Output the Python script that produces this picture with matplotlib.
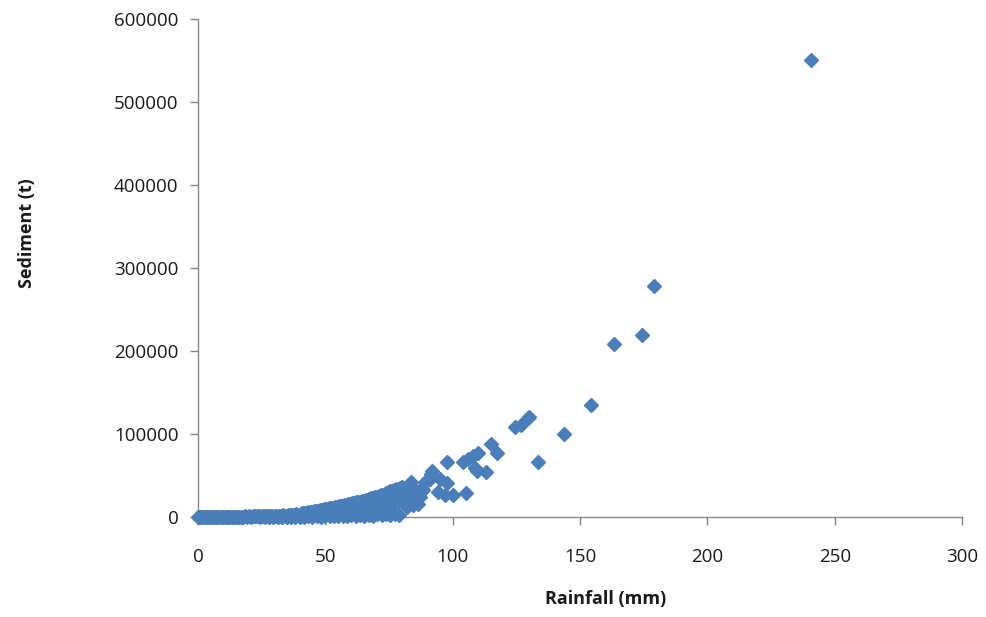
import matplotlib
matplotlib.use("Agg")
import matplotlib.pyplot as plt

# --- data ---
# low band, almost no sediment
rain_band = [0.0, 0.4, 0.8, 1.2, 1.7, 2.1, 2.6, 3.0, 3.5, 4.1, 4.6, 5.2, 5.7, 6.3, 6.9,
             7.4, 8.0, 8.7, 9.3, 9.9, 10.6, 11.2, 11.9, 12.6, 13.2, 13.9, 14.7, 15.4,
             16.1, 16.9, 17.6, 18.4, 19.2, 20.0, 20.8, 21.6, 22.4, 23.3, 24.1, 25.0,
             25.8, 26.7, 27.5, 28.4, 29.2, 30.1, 31.0, 31.8, 32.7, 33.5, 34.4, 35.2,
             36.1, 36.9, 37.8, 38.6, 39.5]
sed_band = [0, 50, 20, 120, 80, 150, 60, 200, 110, 250, 90, 300, 180, 260, 140,
            350, 220, 310, 170, 400, 260, 380, 300, 450, 330, 520, 380, 560,
            420, 640, 480, 700, 560, 780, 650, 900, 720, 1000, 850, 1150,
            950, 1300, 1100, 1450, 1250, 1650, 1400, 1850, 1600, 2100, 1800, 2400,
            2050, 2700, 2300, 3100, 2600]

rain_floor = [24.5, 26.2, 27.9, 29.6, 31.4, 33.1, 34.8, 36.5, 38.2, 39.9, 41.5, 43.2,
              44.9, 46.6, 48.3, 50.0, 51.7, 53.4, 55.1, 56.8, 58.5, 60.2, 61.9, 63.6,
              65.3, 67.0, 68.7, 70.4, 72.1, 73.8, 75.5, 77.2, 78.9]
sed_floor = [0, 100, 40, 200, 90, 300, 150, 420, 250, 500, 380, 700,
             450, 900, 600, 1100, 700, 1400, 900, 1700, 1100, 2100, 1300, 2500,
             1500, 2900, 1800, 3300, 2000, 3800, 2300, 4200, 2600]

# rising band 40-80 mm
rain_mid = [40.3, 41.0, 41.8, 42.5, 43.3, 44.0, 44.8, 45.5, 46.3, 47.0, 47.8, 48.5,
            49.3, 50.0, 50.8, 51.5, 52.3, 53.0, 53.8, 54.5, 55.3, 56.0, 56.8, 57.5,
            58.3, 59.0, 59.8, 60.5, 61.3, 62.0, 62.8, 63.5, 64.3, 65.0, 65.8, 66.5,
            67.3, 68.0, 68.8, 69.5, 70.3, 71.0, 71.8, 72.5, 73.3, 74.0, 74.8, 75.5,
            76.3, 77.0, 77.8, 78.5, 79.3, 80.0]
sed_mid_hi = [4000, 4400, 4700, 4900, 5500, 6000, 6300, 6900, 7200, 7400, 8200, 8600,
              9100, 9500, 10100, 10900, 11000, 11400, 11900, 12400, 12800, 13000, 13800, 14500,
              14900, 15500, 16000, 16900, 17100, 17600, 18200, 18700, 19300, 19300, 20500, 21100,
              21800, 22900, 23100, 23900, 24600, 25400, 26200, 26300, 27900, 28700, 29600, 31200,
              31400, 32400, 33300, 33800, 35400, 36500]
sed_mid_md = [2300, 2000, 2700, 2500, 3100, 2900, 3600, 3300, 4100, 3800, 4700, 4300,
              5200, 4900, 5800, 5400, 6400, 6000, 7000, 6600, 7700, 7200, 8300, 7900,
              9000, 8500, 9700, 9200, 10400, 9800, 11100, 10500, 11900, 11200, 12700, 12000,
              13500, 12800, 14300, 13600, 15200, 14400, 16100, 15200, 17000, 16100, 18000, 17000,
              19000, 17900, 20000, 18900, 21100, 19900]

# scattered points above 80 mm
rain_high = [80.6, 81.3, 81.9, 82.4, 83.2, 83.5, 84.0, 84.6, 85.2, 85.9, 86.3, 87.2,
             87.8, 88.5, 89.1, 91.1, 91.5, 91.8, 94.3, 95.0, 97.0, 97.6, 97.9, 100.0,
             104.2, 105.4, 106.2, 108.1, 108.8, 109.4, 110.1, 113.1, 115.1, 117.5, 124.6,
             126.7, 129.5, 130.1, 133.6, 143.7, 154.3, 163.3, 174.2, 178.9, 240.7]
sed_high = [24000, 31000, 12000, 27000, 39000, 42000, 20000, 14500, 30000, 22000, 16000, 24500,
            34500, 32500, 42500, 45500, 51500, 56000, 30000, 46000, 27000, 66800, 41000, 26000,
            66800, 29300, 70000, 73500, 58500, 55500, 77500, 54500, 87500, 77500, 109000,
            111000, 119000, 121000, 66000, 100500, 135000, 208000, 219000, 279000, 550500]

x_ticks = [0, 50, 100, 150, 200, 250, 300]
y_ticks = [0, 100000, 200000, 300000, 400000, 500000, 600000]

rainfall = rain_band + rain_floor + rain_mid + rain_mid + rain_high
sediment = sed_band + sed_floor + sed_mid_hi + sed_mid_md + sed_high

plt.rcParams['font.family'] = ['Open Sans', 'DejaVu Sans']

fig = plt.figure(figsize=(9.86, 6.17), dpi=100)
ax = fig.add_axes([0.2008, 0.162, 0.7749, 0.807])

ax.plot(rainfall, sediment, linestyle='none', marker='D', markersize=7.5,
        color='#4a7ebb', markeredgecolor='#4a7ebb', clip_on=False, zorder=3)

ax.set_xlim(0, 300)
ax.set_ylim(0, 600000)
ax.set_xticks(x_ticks)
ax.set_yticks(y_ticks)
ax.set_xticklabels([str(v) for v in x_ticks])
ax.set_yticklabels([str(v) for v in y_ticks])

for side in ['top', 'right']:
    ax.spines[side].set_visible(False)
for side in ['left', 'bottom']:
    ax.spines[side].set_color('#878787')
    ax.spines[side].set_linewidth(1.0)

ax.tick_params(axis='both', direction='out', length=6, width=1, color='#878787',
               labelsize=13.5, labelcolor='#1a1a1a')
ax.tick_params(axis='x', pad=16)
ax.tick_params(axis='y', pad=8)

ax.set_xlabel('Rainfall (mm)', fontsize=13, fontweight='bold', color='#1a1a1a')
ax.set_ylabel('Sediment (t)', fontsize=13, fontweight='bold', color='#1a1a1a')
ax.xaxis.set_label_coords(0.534, -0.147)
ax.yaxis.set_label_coords(-0.212, 0.57)

fig.savefig('out.png', dpi=100)
